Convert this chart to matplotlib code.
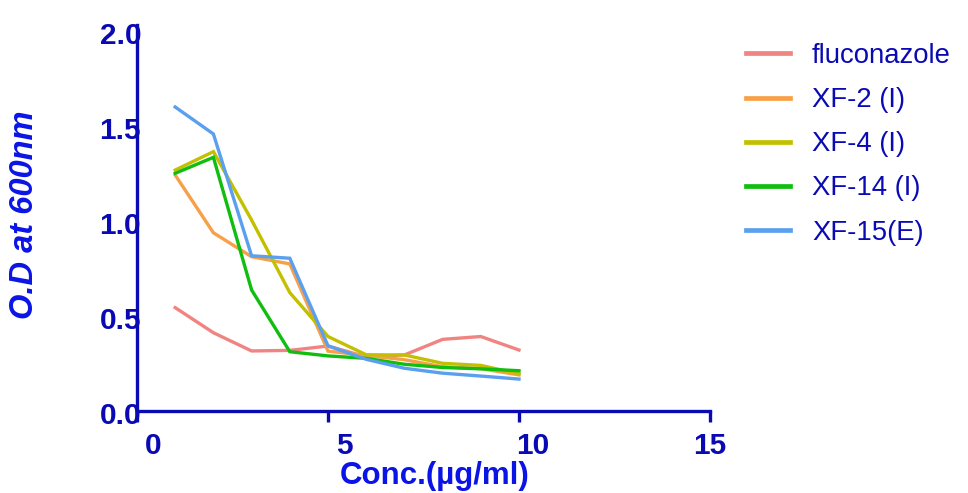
import matplotlib
matplotlib.use('Agg')
import matplotlib.pyplot as plt
import matplotlib.transforms as mtransforms

# concentration (ug/ml) and O.D readings
conc = [1, 2, 3, 4, 5, 6, 7, 8, 9, 10]
fluconazole = [0.544, 0.412, 0.316, 0.319, 0.342, 0.285, 0.295, 0.377, 0.392, 0.321]
xf2 = [1.242, 0.938, 0.812, 0.774, 0.315, 0.292, 0.270, 0.233, 0.223, 0.190]
xf4 = [1.268, 1.365, 1.005, 0.623, 0.392, 0.296, 0.295, 0.251, 0.240, 0.196]
xf14 = [1.251, 1.335, 0.637, 0.312, 0.290, 0.277, 0.246, 0.229, 0.222, 0.212]
xf15 = [1.600, 1.458, 0.817, 0.804, 0.343, 0.272, 0.225, 0.199, 0.184, 0.168]

labels = ['fluconazole', 'XF-2 (I)', 'XF-4 (I)', 'XF-14 (I)', 'XF-15(E)']
colors = ['#F08482', '#F7A048', '#C2C000', '#10BE10', '#5AA0EE']

xticks = [0, 5, 10, 15]
yticks = [0.0, 0.5, 1.0, 1.5, 2.0]

axis_blue = '#0A0AB4'
label_blue = '#0A14E6'

plt.rcParams['font.family'] = ['Liberation Sans', 'DejaVu Sans']

fig = plt.figure(figsize=(9.68, 4.93), dpi=100)
ax = fig.add_axes([137 / 968, 1 - 411 / 493, (710 - 137) / 968, (411 - 31) / 493])

for ys, lab, c in zip([fluconazole, xf2, xf4, xf14, xf15], labels, colors):
    ax.plot(conc, ys, color=c, lw=2.4, label=lab, solid_joinstyle='miter')

ax.set_xlim(0, 15)
ax.set_ylim(0, 2.0)
ax.set_xticks(xticks)
ax.set_yticks(yticks)
ax.set_xticklabels([str(t) for t in xticks])
ax.set_yticklabels(['%.1f' % t for t in yticks])

for s in ['top', 'right']:
    ax.spines[s].set_visible(False)
for s in ['left', 'bottom']:
    ax.spines[s].set_color(axis_blue)
    ax.spines[s].set_linewidth(2.4)
ax.spines['left'].set_bounds(0, 2.03)

ax.tick_params(axis='x', direction='out', length=8, width=2.4, color=axis_blue,
               labelcolor=axis_blue, labelsize=21.5, pad=7)
ax.tick_params(axis='y', length=0, labelcolor=axis_blue, labelsize=21.5, pad=-3)
for t in ax.get_xticklabels() + ax.get_yticklabels():
    t.set_fontweight('bold')

# Prism-style label nudges
shifts = [16, 16, 14, 0]
for t, dx in zip(ax.get_xticklabels(), shifts):
    off = mtransforms.ScaledTranslation(dx / 100, 0, fig.dpi_scale_trans)
    t.set_transform(t.get_transform() + off)
for t in ax.get_yticklabels():
    off = mtransforms.ScaledTranslation(0, -2 / 100, fig.dpi_scale_trans)
    t.set_transform(t.get_transform() + off)

fig.text(435 / 968, 1 - 476 / 493, 'Conc.(\u00b5g/ml)', ha='center', va='center',
         fontsize=22.5, fontweight='bold', color=label_blue)
fig.text(25 / 968, 1 - 215 / 493, 'O.D at 600nm', ha='center', va='center',
         rotation=90, fontsize=23.5, fontweight='bold', style='italic', color=label_blue)

leg = fig.legend(loc='upper left', bbox_to_anchor=(735 / 968, 1 - 32 / 493),
                 frameon=False, fontsize=19.8, handlelength=1.6, handletextpad=0.8,
                 labelspacing=0.66, borderaxespad=0)
for h in leg.get_lines():
    h.set_linewidth(3.4)
for t in leg.get_texts():
    t.set_color(axis_blue)

fig.savefig('out.png', dpi=100)
